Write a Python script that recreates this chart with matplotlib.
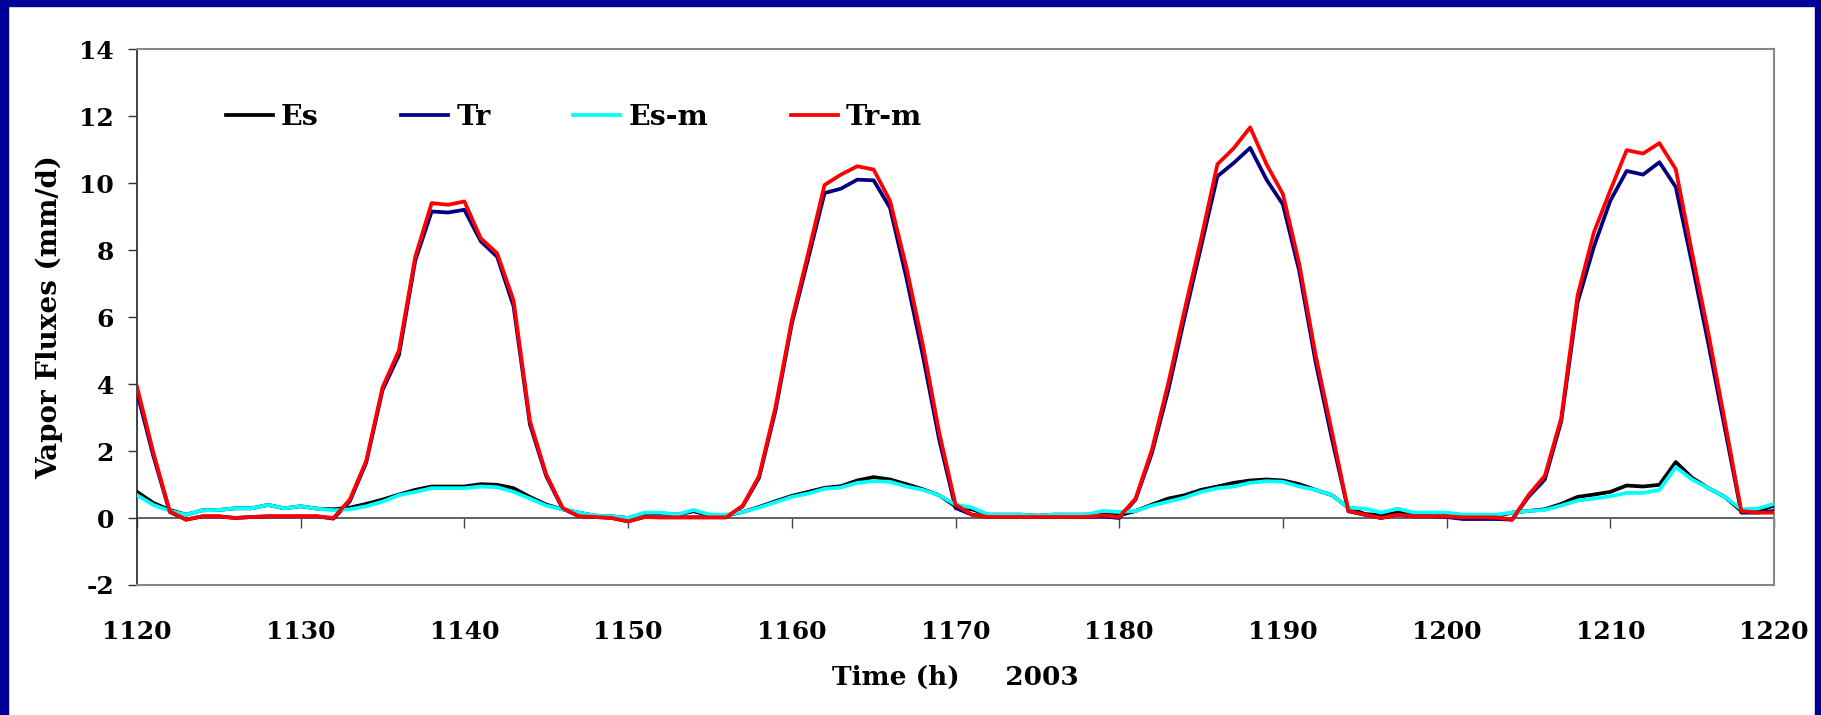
import numpy as np
import matplotlib
matplotlib.use("Agg")
import matplotlib.pyplot as plt
from matplotlib.patches import Rectangle

# hourly time axis
hours = np.arange(1120, 1221)

# soil evaporation Es
es = [0.78, 0.45, 0.24, 0.10, 0.23, 0.24, 0.29, 0.29, 0.39, 0.29,
      0.35, 0.28, 0.26, 0.31, 0.42, 0.55, 0.70, 0.84, 0.94, 0.94,
      0.94, 1.01, 0.99, 0.89, 0.63, 0.40, 0.26, 0.16, 0.07, 0.05,
      0.00, 0.14, 0.14, 0.10, 0.20, 0.08, 0.08, 0.18, 0.33, 0.50,
      0.66, 0.78, 0.90, 0.95, 1.12, 1.22, 1.15, 1.01, 0.86, 0.68,
      0.35, 0.26, 0.10, 0.10, 0.10, 0.07, 0.10, 0.10, 0.10, 0.16,
      0.08, 0.21, 0.40, 0.58, 0.68, 0.84, 0.94, 1.05, 1.12, 1.15,
      1.12, 1.01, 0.84, 0.68, 0.31, 0.12, 0.08, 0.16, 0.12, 0.10,
      0.08, 0.05, 0.05, 0.05, 0.16, 0.21, 0.26, 0.42, 0.63, 0.70,
      0.78, 0.97, 0.94, 0.99, 1.67, 1.20, 0.89, 0.63, 0.21, 0.21,
      0.37]

# transpiration Tr
tr = [3.75, 1.85, 0.18, -0.05, 0.05, 0.05, 0.00, 0.03, 0.05, 0.05,
      0.05, 0.05, -0.02, 0.50, 1.65, 3.82, 4.86, 7.69, 9.15, 9.12,
      9.20, 8.26, 7.80, 6.33, 2.80, 1.25, 0.28, 0.05, 0.03, 0.00,
      -0.10, 0.03, 0.02, 0.02, 0.02, 0.02, 0.02, 0.35, 1.20, 3.20,
      5.80, 7.74, 9.70, 9.83, 10.10, 10.08, 9.26, 7.17, 4.86, 2.35,
      0.30, 0.10, 0.03, 0.03, 0.03, 0.03, 0.03, 0.03, 0.03, 0.05,
      0.00, 0.55, 1.94, 3.82, 6.00, 8.10, 10.20, 10.60, 11.05, 10.10,
      9.36, 7.37, 4.65, 2.35, 0.20, 0.10, 0.00, 0.10, 0.05, 0.05,
      0.03, -0.03, -0.03, -0.03, -0.05, 0.63, 1.15, 2.88, 6.43, 8.10,
      9.47, 10.36, 10.25, 10.62, 9.88, 7.58, 5.18, 2.67, 0.16, 0.16,
      0.21]

# modelled soil evaporation Es-m
es_m = [0.68, 0.39, 0.21, 0.10, 0.23, 0.24, 0.29, 0.29, 0.39, 0.29,
        0.35, 0.28, 0.23, 0.26, 0.35, 0.49, 0.68, 0.78, 0.89, 0.89,
        0.89, 0.94, 0.92, 0.78, 0.58, 0.37, 0.26, 0.16, 0.07, 0.05,
        0.00, 0.16, 0.16, 0.10, 0.24, 0.10, 0.10, 0.18, 0.31, 0.47,
        0.63, 0.73, 0.87, 0.91, 1.05, 1.10, 1.08, 0.94, 0.84, 0.68,
        0.40, 0.31, 0.10, 0.10, 0.10, 0.07, 0.10, 0.10, 0.10, 0.21,
        0.18, 0.21, 0.37, 0.49, 0.61, 0.78, 0.89, 0.94, 1.05, 1.10,
        1.08, 0.94, 0.84, 0.68, 0.31, 0.28, 0.16, 0.28, 0.16, 0.16,
        0.16, 0.10, 0.10, 0.10, 0.16, 0.21, 0.24, 0.37, 0.52, 0.58,
        0.65, 0.75, 0.75, 0.84, 1.52, 1.15, 0.89, 0.63, 0.26, 0.28,
        0.42]

# modelled transpiration Tr-m
tr_m = [3.92, 1.95, 0.20, -0.05, 0.05, 0.05, 0.00, 0.03, 0.05, 0.05,
        0.05, 0.05, 0.00, 0.55, 1.70, 3.90, 5.00, 7.80, 9.40, 9.35,
        9.45, 8.35, 7.90, 6.50, 2.90, 1.30, 0.30, 0.05, 0.03, 0.00,
        -0.10, 0.03, 0.02, 0.02, 0.02, 0.02, 0.02, 0.37, 1.25, 3.30,
        5.90, 7.90, 9.94, 10.25, 10.50, 10.40, 9.47, 7.48, 5.18, 2.56,
        0.40, 0.10, 0.03, 0.03, 0.03, 0.03, 0.03, 0.03, 0.03, 0.08,
        0.03, 0.58, 2.04, 4.03, 6.22, 8.32, 10.56, 11.04, 11.66, 10.56,
        9.67, 7.58, 4.86, 2.56, 0.21, 0.10, 0.00, 0.10, 0.05, 0.05,
        0.05, 0.02, 0.02, 0.02, -0.05, 0.68, 1.26, 2.98, 6.64, 8.53,
        9.78, 10.98, 10.88, 11.19, 10.41, 7.90, 5.49, 2.88, 0.21, 0.16,
        0.16]

x_ticks = np.arange(1120, 1221, 10)
y_ticks = np.arange(-2, 15, 2)

plt.rcParams["font.family"] = "DejaVu Serif"
plt.rcParams["font.weight"] = "bold"
plt.rcParams["axes.labelweight"] = "bold"
plt.rcParams["axes.unicode_minus"] = False

fig = plt.figure(figsize=(18.21, 7.15), dpi=100)
fig.patch.set_facecolor("white")

# dark blue slide frame
frame_col = "#000099"
fig.patches.append(Rectangle((0, 0), 8 / 1821, 1, transform=fig.transFigure, color=frame_col, zorder=0))
fig.patches.append(Rectangle((0, 1 - 6 / 715), 1, 6 / 715, transform=fig.transFigure, color=frame_col, zorder=0))
fig.patches.append(Rectangle((1815 / 1821, 0), 6 / 1821, 1, transform=fig.transFigure, color=frame_col, zorder=0))

ax = fig.add_axes([137 / 1821, 1 - 585 / 715, (1774 - 137) / 1821, (585 - 49) / 715])

lw = 2.7
ax.plot(hours, es, color="black", lw=lw, label="Es", zorder=3)
ax.plot(hours, tr, color="#000080", lw=lw, label="Tr", zorder=4)
ax.plot(hours, es_m, color="#00FFFF", lw=lw, label="Es-m", zorder=5)
ax.plot(hours, tr_m, color="#FF0000", lw=lw, label="Tr-m", zorder=6)

ax.set_xlim(1120, 1220)
ax.set_ylim(-2, 14)
ax.set_yticks(y_ticks)
ax.set_xticks(x_ticks)

for side in ["top", "right", "bottom"]:
    ax.spines[side].set_color("#888888")
    ax.spines[side].set_linewidth(1.5)
ax.spines["left"].set_color("#333333")
ax.spines["left"].set_linewidth(1.3)

ax.tick_params(axis="y", direction="out", length=6.5, width=1, color="#333333",
               pad=10, labelsize=18)
ax.tick_params(axis="x", length=0, pad=25, labelsize=18)

# zero line carrying the x tick marks
sec = ax.secondary_xaxis(0.125)
sec.set_xticks(x_ticks)
sec.tick_params(direction="out", length=7, width=1, color="#444444", labelbottom=False)
sec.spines["bottom"].set_color("#555555")
sec.spines["bottom"].set_linewidth(1.3)

ax.set_ylabel("Vapor Fluxes (mm/d)", fontsize=20)
ax.yaxis.set_label_coords(-0.0452, 0.5)
ax.set_xlabel("Time (h)     2003", fontsize=19)
ax.xaxis.set_label_coords(0.5, -0.149)

ax.legend(loc="center left", bbox_to_anchor=(0.0545, 0.873), ncol=4, frameon=False,
          fontsize=20.5, handlelength=1.65, handletextpad=0.28, columnspacing=2.9,
          borderpad=0, borderaxespad=0)

fig.savefig("out.png", dpi=100, facecolor=fig.get_facecolor())
